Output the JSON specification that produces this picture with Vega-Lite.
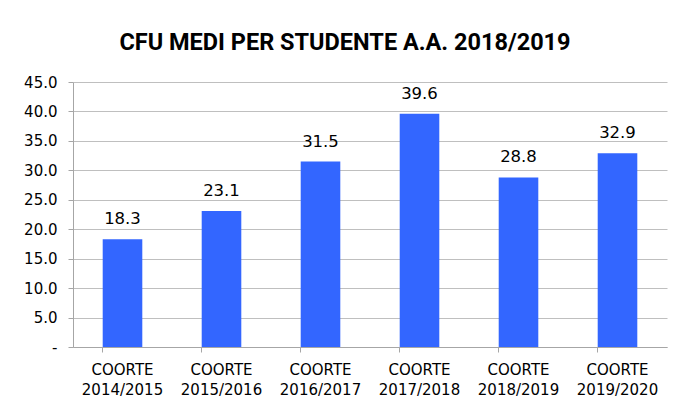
{
  "$schema": "https://vega.github.io/schema/vega-lite/v6.json",
  "width": 594,
  "height": 265,
  "autosize": {"type": "pad"},
  "padding": {"left": 23, "top": 31, "right": 8, "bottom": 0},
  "background": "white",
  "title": {
    "text": "CFU MEDI PER STUDENTE A.A. 2018/2019",
    "font": "Roboto",
    "fontSize": 23.5,
    "fontWeight": "bold",
    "color": "#000000",
    "anchor": "middle",
    "frame": "bounds",
    "offset": 20.5
  },
  "config": {"view": {"stroke": null}},
  "data": {
    "values": [
      {"coorte": "COORTE 2014/2015", "cfu": 18.3},
      {"coorte": "COORTE 2015/2016", "cfu": 23.1},
      {"coorte": "COORTE 2016/2017", "cfu": 31.5},
      {"coorte": "COORTE 2017/2018", "cfu": 39.6},
      {"coorte": "COORTE 2018/2019", "cfu": 28.8},
      {"coorte": "COORTE 2019/2020", "cfu": 32.9}
    ]
  },
  "encoding": {
    "x": {
      "field": "coorte",
      "type": "nominal",
      "sort": null,
      "scale": {"paddingInner": 0.6, "paddingOuter": 0.3},
      "axis": {
        "title": null,
        "labelAngle": 0,
        "labelExpr": "split(datum.value, ' ')",
        "labelFont": "DejaVu Sans",
        "labelFontSize": 15,
        "labelColor": "#000000",
        "labelLineHeight": 20,
        "labelPadding": 10,
        "bandPosition": 0,
        "tickSize": 5,
        "tickColor": "#A6A6A6",
        "domainColor": "#A6A6A6",
        "grid": false
      }
    },
    "y": {
      "field": "cfu",
      "type": "quantitative",
      "scale": {"domain": [0, 45], "nice": false},
      "axis": {
        "title": null,
        "values": [0, 5, 10, 15, 20, 25, 30, 35, 40, 45],
        "labelExpr": "datum.value == 0 ? '-' : format(datum.value, '.1f')",
        "labelFont": "DejaVu Sans",
        "labelFontSize": 15,
        "labelColor": "#000000",
        "labelPadding": 11,
        "tickSize": 5,
        "tickColor": "#A6A6A6",
        "domainColor": "#A6A6A6",
        "gridColor": "#BFBFBF",
        "minExtent": 50,
        "maxExtent": 50
      }
    }
  },
  "layer": [
    {"mark": {"type": "bar", "color": "#3366FF"}},
    {
      "mark": {
        "type": "text",
        "baseline": "alphabetic",
        "dy": -15,
        "font": "DejaVu Sans",
        "fontSize": 16.5,
        "color": "#000000"
      },
      "encoding": {"text": {"field": "cfu", "type": "quantitative", "format": ".1f"}}
    }
  ]
}
